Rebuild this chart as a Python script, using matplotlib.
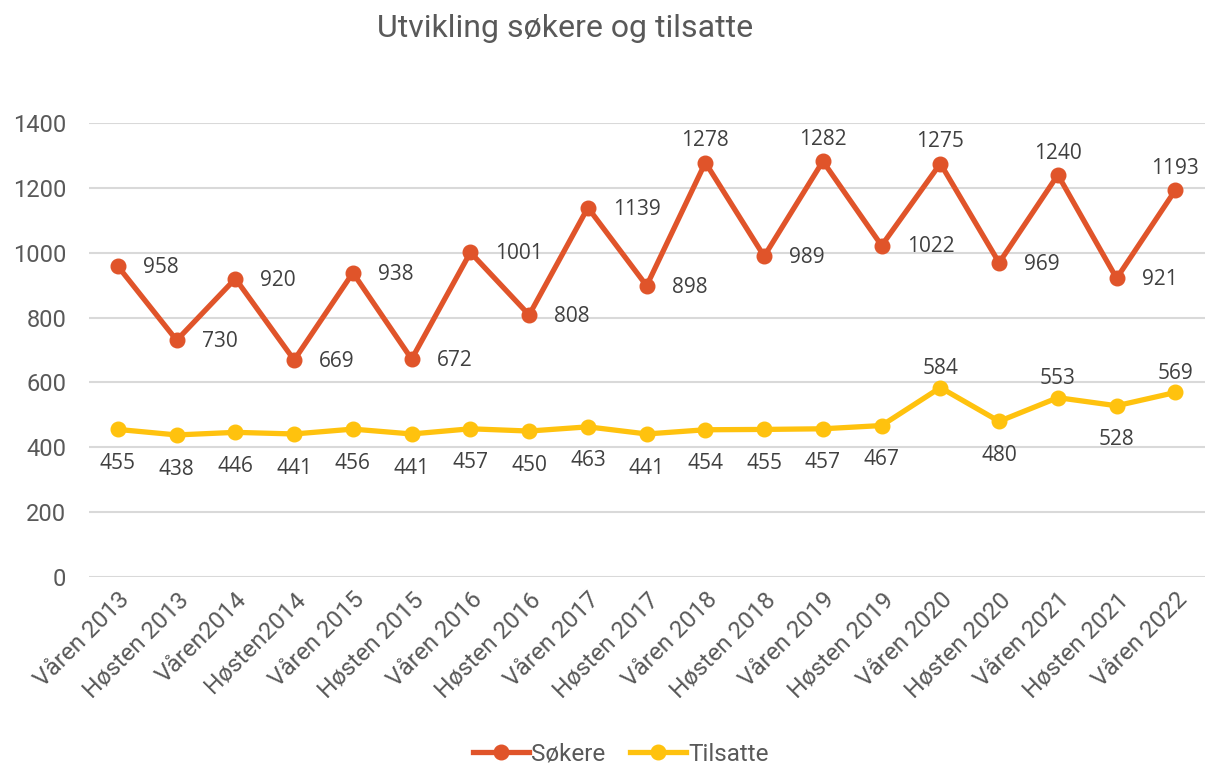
import matplotlib
matplotlib.use("Agg")
import matplotlib.pyplot as plt

categories = ["Våren 2013", "Høsten 2013", "Våren2014", "Høsten2014", "Våren 2015",
              "Høsten 2015", "Våren 2016", "Høsten 2016", "Våren 2017", "Høsten 2017",
              "Våren 2018", "Høsten 2018", "Våren 2019", "Høsten 2019", "Våren 2020",
              "Høsten 2020", "Våren 2021", "Høsten 2021", "Våren 2022"]
sokere = [958, 730, 920, 669, 938, 672, 1001, 808, 1139, 898, 1278, 989, 1282, 1022,
          1275, 969, 1240, 921, 1193]
tilsatte = [455, 438, 446, 441, 456, 441, 457, 450, 463, 441, 454, 455, 457, 467,
            584, 480, 553, 528, 569]
yticks = [0, 200, 400, 600, 800, 1000, 1200, 1400]

ORANGE = "#E0542A"
YELLOW = "#FFC20E"
TICK = "#595959"
LBL = "#404040"

plt.rcParams['font.family'] = ['Roboto', 'DejaVu Sans']

fig = plt.figure(figsize=(12.08, 7.64), dpi=100)
ax = fig.add_axes([0.0733, 0.2448, 0.924, 0.5942])

x = list(range(len(categories)))
ax.plot(x, sokere, color=ORANGE, lw=3.8, marker='o', ms=10.5, label="Søkere",
        solid_joinstyle='round', zorder=3)
ax.plot(x, tilsatte, color=YELLOW, lw=3.8, marker='o', ms=10.5, label="Tilsatte",
        solid_joinstyle='round', zorder=3)

lblfont = dict(fontsize=15, color=LBL, family=['Open Sans', 'DejaVu Sans'])
for i, v in enumerate(sokere):
    if i >= 10 and i % 2 == 0:
        ax.annotate(str(v), (i, v), xytext=(0, 8), textcoords='offset points',
                    ha='center', va='bottom', **lblfont)
    else:
        ax.annotate(str(v), (i, v), xytext=(18, -1), textcoords='offset points',
                    ha='left', va='center', **lblfont)
for i, v in enumerate(tilsatte):
    if v in (584, 553, 569):
        ax.annotate(str(v), (i, v), xytext=(0, 6), textcoords='offset points',
                    ha='center', va='bottom', **lblfont)
    else:
        ax.annotate(str(v), (i, v), xytext=(0, -17), textcoords='offset points',
                    ha='center', va='top', **lblfont)

ax.set_xlim(-0.5, len(categories) - 0.5)
ax.set_ylim(0, 1400)
ax.set_yticks(yticks)
ax.set_yticklabels([str(t) for t in yticks])
ax.set_xticks(x)
ax.set_xticklabels(categories, rotation=45, ha='right', rotation_mode='anchor')
ax.tick_params(axis='both', length=0, labelcolor=TICK)
ax.tick_params(axis='y', pad=16, labelsize=17)
ax.tick_params(axis='x', pad=8, labelsize=17.5)
ax.grid(axis='y', color='#D9D9D9', lw=1.5)
ax.set_axisbelow(True)
for s in ax.spines.values():
    s.set_visible(False)

fig.text(0.468, 0.963, "Utvikling søkere og tilsatte", ha='center', va='center',
         fontsize=23, color=TICK)

fig.legend(loc='center', bbox_to_anchor=(0.514, 0.013), ncol=2, frameon=False,
           fontsize=17.5, labelcolor=TICK, handlelength=2.3, handletextpad=0.1,
           columnspacing=1.0, markerscale=1.0)

fig.savefig("out.png", dpi=100)
